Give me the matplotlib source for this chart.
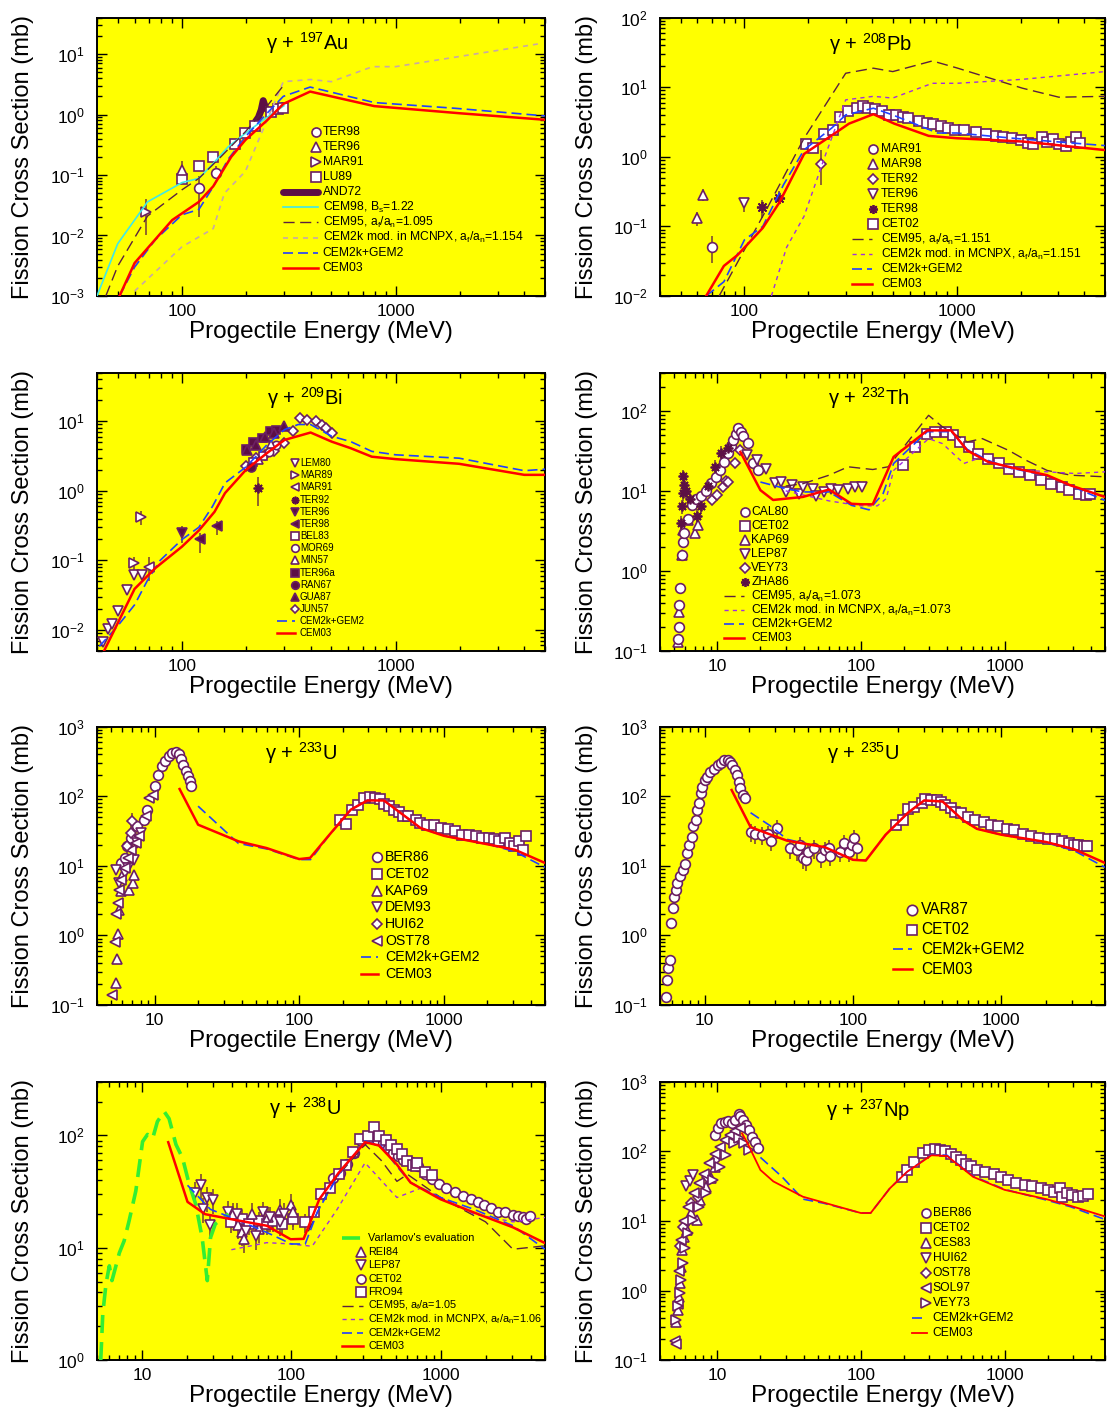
import numpy as np
import matplotlib
matplotlib.use("Agg")
import matplotlib.pyplot as plt
from matplotlib.ticker import LogLocator, NullFormatter, FixedLocator, FixedFormatter

plt.rcParams['font.family'] = ['Liberation Sans', 'DejaVu Sans']
plt.rcParams['mathtext.fontset'] = 'custom'
plt.rcParams['mathtext.rm'] = 'Liberation Sans'
plt.rcParams['mathtext.it'] = 'Liberation Sans:italic'
plt.rcParams['mathtext.bf'] = 'Liberation Sans:bold'
plt.rcParams['mathtext.default'] = 'regular'

YELLOW = '#ffff00'
MEDGE = '#6b1f62'
MFILL = '#5c0f45'
ECOL = '#7d4b32'
RED = '#ff0000'
BLUE = '#2040ff'
BROWN = '#5a2040'
PURPLE = '#a030e0'
PINKGRAY = '#c8a8a8'
CYAN = '#40e8e8'
GREEN = '#33ee33'

# ── gamma + 197Au ─────────────────────────────────────────────────────────────
AU_TER98 = np.array([[120, 0.06], [145, 0.11]])
AU_TER98_ERR = np.array([[0.04, 0.035], [0.025, 0.03]])
AU_TER96 = np.array([[100, 0.12]])
AU_TER96_ERR = np.array([[0.03, 0.05]])
AU_MAR91 = np.array([[68, 0.024]])
AU_MAR91_ERR = np.array([[0.014, 0.016]])
AU_LU89 = np.array([[100, 0.085], [120, 0.14], [140, 0.2], [178, 0.32], [198, 0.49],
                    [220, 0.65], [260, 1.1], [280, 1.22], [298, 1.3]])
AU_AND72 = np.array([[220, 0.75], [228, 0.9], [235, 1.2], [240, 1.7], [246, 1.3],
                     [255, 1.15], [265, 1.2], [280, 1.3], [295, 1.4]])
AU_CEM98 = np.array([[40, 0.001], [50, 0.0073], [69, 0.036], [100, 0.075], [120, 0.088],
                     [140, 0.155], [164, 0.29], [198, 0.49], [250, 0.9], [300, 1.4]])
AU_CEM95 = np.array([[44, 0.001], [50, 0.0031], [69, 0.021], [100, 0.057], [120, 0.088],
                     [152, 0.2], [198, 0.52], [235, 1.05], [298, 3.0]])
AU_MCNPX = np.array([[60, 0.0012], [100, 0.0065], [140, 0.013], [158, 0.05], [198, 0.115],
                     [298, 3.5], [400, 3.8], [500, 3.5], [780, 6.2], [1000, 6.2], [4800, 15]])
AU_GEM2 = np.array([[51, 0.001], [60, 0.003], [75, 0.0085], [100, 0.022], [120, 0.027],
                    [140, 0.064], [164, 0.18], [198, 0.43], [250, 1.05], [298, 2.0],
                    [398, 2.85], [794, 1.58], [1900, 1.27], [5000, 0.95]])
AU_CEM03 = np.array([[51, 0.001], [60, 0.0035], [90, 0.018], [120, 0.036], [140, 0.065],
                     [170, 0.2], [198, 0.38], [250, 0.8], [298, 1.5], [398, 2.4],
                     [794, 1.38], [2000, 1.05], [5000, 0.82]])

# ── gamma + 208Pb ─────────────────────────────────────────────────────────────
PB_MAR91 = np.array([[70, 0.05]])
PB_MAR91_ERR = np.array([[0.02, 0.022]])
PB_MAR98 = np.array([[60, 0.13], [64, 0.28]])
PB_MAR98_ERR = np.array([[0.03, 0.03], [0.05, 0.06]])
PB_TER92 = np.array([[229, 0.8]])
PB_TER92_ERR = np.array([[0.4, 0.45]])
PB_TER96 = np.array([[100, 0.22]])
PB_TER96_ERR = np.array([[0.06, 0.04]])
PB_TER98 = np.array([[121, 0.19], [146, 0.26]])
PB_TER98_ERR = np.array([[0.06, 0.05], [0.05, 0.06]])
PB_CET02 = np.array([[195, 1.53], [210, 1.35], [237, 2.1], [260, 2.4], [283, 3.7], [309, 4.6],
                     [338, 5.0], [362, 5.3], [383, 5.1], [413, 4.9], [445, 4.6], [479, 4.0],
                     [518, 4.0], [558, 3.7], [590, 3.6], [661, 3.3], [727, 3.1], [773, 3.0],
                     [846, 2.8], [910, 2.6], [981, 2.4], [1077, 2.45], [1228, 2.3], [1372, 2.1],
                     [1539, 2.0], [1660, 1.95], [1823, 1.85], [2000, 1.75], [2163, 1.6],
                     [2289, 1.55], [2516, 1.9], [2662, 1.66], [2857, 1.8], [3030, 1.55],
                     [3262, 1.45], [3450, 1.66], [3650, 1.9], [3800, 1.6]])
PB_CEM95 = np.array([[76, 0.01], [130, 0.2], [191, 1.85], [300, 15.9], [405, 18.8], [500, 16.8],
                     [768, 23.9], [1000, 19], [1630, 12], [2040, 9.7], [3030, 7.2], [5000, 7.4]])
PB_MCNPX = np.array([[134, 0.01], [158, 0.05], [191, 0.14], [239, 1.0], [300, 6.6], [405, 7.4],
                     [500, 7.0], [768, 11.4], [1000, 11.4], [2040, 13], [5000, 16.8]])
PB_GEM2 = np.array([[66, 0.01], [80, 0.016], [100, 0.064], [122, 0.1], [153, 0.4], [191, 1.26],
                    [258, 2.6], [300, 4.0], [405, 5.0], [500, 4.0], [812, 2.2], [1000, 2.2],
                    [2040, 1.8], [5000, 1.45]])
PB_CEM03 = np.array([[66, 0.01], [80, 0.027], [93, 0.039], [122, 0.095], [146, 0.22],
                     [191, 1.1], [268, 2.2], [311, 3.0], [405, 4.1], [508, 3.0], [738, 2.0],
                     [1000, 1.85], [2040, 1.66], [5000, 1.25]])

# ── gamma + 209Bi ─────────────────────────────────────────────────────────────
BI_LEM80 = np.array([[42.5, 0.0067], [45, 0.0104], [47.2, 0.0123], [50.4, 0.019], [55, 0.0377],
                     [59.7, 0.061], [65, 0.062]])
BI_MAR89 = np.array([[59.7, 0.092], [64.3, 0.42]])
BI_MAR89_ERR = np.array([[0.02, 0.02], [0.1, 0.1]])
BI_MAR91 = np.array([[70.2, 0.081]])
BI_MAR91_ERR = np.array([[0.03, 0.03]])
BI_TER92 = np.array([[227, 1.1]])
BI_TER92_ERR = np.array([[0.5, 0.5]])
BI_TER96 = np.array([[100, 0.25]])
BI_TER96_ERR = np.array([[0.07, 0.06]])
BI_TER98 = np.array([[121, 0.2], [146, 0.31]])
BI_TER98_ERR = np.array([[0.07, 0.05], [0.08, 0.06]])
BI_BEL83 = np.array([[215, 2.6], [240, 3.2]])
BI_MOR69 = np.array([[255, 3.6], [275, 4.6]])
BI_MIN57 = np.array([[230, 2.8], [260, 4.7]])
BI_TER96A = np.array([[199, 4.0], [215, 5.1], [236, 5.7], [259, 7.2], [275, 7.6]])
BI_RAN67 = np.array([[210, 2.2]])
BI_GUA87 = np.array([[202, 3.9], [223, 4.6], [245, 5.9], [269, 6.8], [299, 8.5]])
BI_JUN57 = np.array([[199, 2.3], [223, 3.0], [245, 3.3], [269, 3.8], [299, 4.9], [332, 7.2],
                     [357, 11.2], [385, 10.6], [424, 10], [453, 8.9], [473, 8], [502, 6.8]])
BI_GEM2 = np.array([[41, 0.0058], [49.5, 0.011], [60, 0.023], [69, 0.052], [79, 0.1], [100, 0.2],
                    [120, 0.3], [139, 0.6], [159, 1.3], [199, 2.2], [250, 4.6], [302, 7.6],
                    [350, 9.0], [400, 9.0], [502, 6.1], [617, 5.1], [773, 3.7], [1000, 3.3],
                    [1982, 2.95], [4000, 1.95], [5000, 2.05]])
BI_CEM03 = np.array([[43.3, 0.0051], [60, 0.039], [74.8, 0.077], [100, 0.158], [120, 0.27],
                     [142, 0.5], [159, 0.93], [199, 2.0], [250, 3.5], [302, 5.4], [400, 6.9],
                     [502, 5.1], [617, 4.1], [773, 3.1], [1000, 2.86], [1982, 2.45],
                     [4000, 1.7], [5000, 1.7]])

# ── gamma + 232Th ─────────────────────────────────────────────────────────────
TH_CAL80 = np.array([[5.35, 0.14], [5.4, 0.2], [5.45, 0.38], [5.5, 0.61], [5.66, 1.6],
                     [5.75, 2.3], [5.9, 3.0], [6.3, 4.5], [6.63, 6.7], [7.1, 8.0], [7.74, 8.7],
                     [8.4, 10], [9.1, 12.6], [9.8, 15], [10.5, 18], [11.2, 23], [11.9, 29.8],
                     [12.4, 36], [12.9, 43], [13.5, 52], [14, 61], [14.6, 55], [15.2, 48],
                     [16.4, 40], [17.8, 22], [19.3, 18]])
TH_CET02 = np.array([[195, 21], [237, 35], [288, 51], [330, 55], [390, 55], [440, 50], [490, 41],
                     [565, 35], [650, 29], [770, 25], [910, 22], [1070, 19], [1260, 17.3],
                     [1500, 15.7], [1780, 13.6], [2100, 12.3], [2500, 11.2], [2800, 10.2],
                     [3300, 9.2], [3700, 8.8], [3900, 9.2]])
TH_KAP69 = np.array([[5.35, 0.13], [5.45, 0.31], [5.66, 1.6], [5.8, 3.2], [6.3, 4.3], [7.0, 3.0],
                     [7.4, 3.7]])
TH_LEP87 = np.array([[16, 28], [19, 24], [22, 19], [25.3, 12.4], [28, 13], [30, 9.7], [33.4, 11.8],
                     [37.3, 9.2], [39.5, 11.2], [46.7, 10.7], [49, 8.6], [55, 9.7], [61.6, 10.7],
                     [69, 10.2], [81.6, 10.7], [91, 11.2], [102, 11.2]])
TH_VEY73 = np.array([[9.2, 7.6], [10, 8.9], [10.9, 11.2], [11.5, 13.3], [11.8, 13], [13.2, 22],
                     [14.4, 32]])
TH_ZHA86 = np.array([[5.6, 4.0], [5.7, 6.5], [5.75, 9.4], [5.8, 15.4], [5.9, 12], [6.1, 10],
                     [6.5, 8], [7.2, 4.9], [7.7, 6.5], [8.7, 11.5], [9.7, 20], [10.6, 30],
                     [11.9, 34]])
TH_CEM95 = np.array([[30, 11.5], [39.5, 12.3], [60, 15.7], [81.6, 20], [121, 18.5], [155, 20],
                     [296, 88], [370, 63], [550, 41], [700, 45], [1070, 32], [1420, 24],
                     [1980, 18], [2900, 15.7], [5000, 15]])
TH_MCNPX = np.array([[30, 10], [60, 7.5], [100, 6.5], [130, 6.5], [150, 8], [169, 18], [296, 45],
                     [370, 39], [520, 22], [680, 26], [1070, 19], [1980, 17.3], [3100, 16.5],
                     [5000, 17.3]])
TH_GEM2 = np.array([[20, 12.9], [29.8, 10.7], [39.5, 9.7], [60, 9.7], [86, 6.6], [114, 5.8],
                    [143, 9.3], [169, 22], [290, 55], [425, 55], [550, 33], [770, 24],
                    [1070, 19.5], [1980, 15.4], [5000, 7.6]])
TH_CEM03 = np.array([[14.5, 30.7], [20, 10.2], [24.5, 7.7], [39.5, 8.4], [60, 10.4], [86, 6.9],
                     [102, 6.8], [121, 6.8], [169, 26.6], [290, 57], [425, 57], [550, 32],
                     [770, 23], [1070, 20], [1980, 15.7], [2850, 11.8], [5000, 8.4]])

# ── gamma + 233U ──────────────────────────────────────────────────────────────
U233_BER86 = np.array([[5.9, 10.8], [6.2, 13], [6.4, 19], [6.9, 25], [7.6, 37], [8.4, 46],
                       [8.9, 64], [10, 140], [10.6, 205], [11.2, 270], [11.8, 320], [12.5, 380],
                       [13.2, 420], [14, 430], [14.8, 400], [15.2, 340], [15.8, 285],
                       [16.5, 230], [17, 195], [17.5, 165], [18, 140]])
U233_CET02 = np.array([[192, 46], [209, 40], [233, 64], [254, 76], [282, 95], [307, 98], [333, 95],
                       [363, 91], [385, 78], [418, 72], [455, 64], [493, 59], [523, 52], [568, 52],
                       [638, 46], [689, 41], [770, 39], [860, 38], [960, 35], [1070, 34],
                       [1200, 32], [1340, 28], [1500, 28], [1680, 26.4], [1830, 25], [2040, 25],
                       [2220, 24], [2420, 22.5], [2630, 25], [2880, 21], [3040, 19], [3320, 22.5],
                       [3500, 17], [3700, 27]])
U233_KAP69 = np.array([[5.4, 0.21], [5.5, 0.46], [5.6, 1.05], [5.7, 2.3], [5.9, 4.3], [6.0, 7.1],
                       [6.7, 4.5], [7.1, 5.6], [7.2, 7.4]])
U233_DEM93 = np.array([[5.4, 8.8], [5.7, 5.6], [6.2, 7.8], [6.6, 9.2], [7.2, 12], [7.6, 21],
                       [8.0, 30]])
U233_HUI62 = np.array([[6.4, 19], [6.9, 30], [7.0, 44]])
U233_HUI62_ERR = np.array([[4, 4], [6, 8], [10, 14]])
U233_OST78 = np.array([[5.1, 0.14], [5.3, 0.8], [5.4, 2.0], [5.6, 2.9], [5.7, 4.5], [5.9, 6.3],
                       [6.2, 9.3], [6.6, 13], [6.9, 17], [7.4, 21], [7.8, 27], [8.7, 52],
                       [9.2, 95], [9.7, 105]])
U233_GEM2 = np.array([[20, 72], [38, 21], [59.5, 17.5], [100, 12.3], [120, 12.3], [158, 26],
                      [227, 64], [296, 88], [385, 88], [523, 54], [689, 35], [1000, 27],
                      [2100, 20], [3100, 16], [5000, 9.5]])
U233_CEM03 = np.array([[14.9, 127], [20, 39], [38, 22.5], [59.5, 18], [100, 12.5], [119, 13],
                       [158, 26.4], [227, 64], [296, 87], [385, 87], [523, 54], [689, 35],
                       [1000, 27], [2100, 20], [3100, 17], [5000, 11]])

# ── gamma + 235U ──────────────────────────────────────────────────────────────
U235_VAR87_GDR = np.array([[5.5, 0.13], [5.6, 0.23], [5.7, 0.34], [5.8, 0.44], [5.9, 1.5],
                           [6.1, 2.5], [6.2, 3.6], [6.4, 4.5], [6.5, 5.6], [6.8, 7.1], [7.1, 8.7],
                           [7.4, 10.5], [7.6, 15.3], [7.8, 20], [8.2, 26], [8.4, 37], [8.7, 46],
                           [8.9, 64], [9.1, 79], [9.4, 110], [9.6, 138], [10, 172], [10.4, 190],
                           [10.9, 225], [11.6, 250], [12.3, 280], [12.9, 300], [13.6, 330],
                           [14.4, 330], [14.9, 310], [15.4, 280], [16.0, 240], [16.5, 200],
                           [17, 160], [17.4, 130], [18, 105], [18.6, 93]])
U235_VAR87_HI = np.array([[20.4, 31], [22, 29], [24.3, 28], [26.7, 29], [28, 23], [30.6, 35],
                          [37.8, 18], [42, 17], [44, 20], [45.7, 13], [48, 12], [49.5, 16],
                          [55, 18], [61, 13.5], [65, 17], [68.5, 18], [70, 14], [82, 16],
                          [87, 21], [94.5, 16], [99, 19.7], [102, 25], [106, 18]])
U235_CET02 = np.array([[195, 39], [217, 45], [235, 65], [258, 70], [290, 79], [307, 91], [338, 87],
                       [370, 88], [390, 82], [420, 75], [455, 67], [491, 60], [535, 57], [597, 50],
                       [665, 45], [760, 42], [850, 39], [950, 37], [1090, 34], [1210, 32.5],
                       [1390, 29], [1580, 27], [1800, 25], [2050, 24], [2300, 24], [2550, 22.6],
                       [2850, 21.5], [3100, 20], [3300, 20], [3600, 19], [3800, 19]])
U235_GEM2 = np.array([[20.4, 58], [27.5, 38], [36, 24], [65, 18], [100, 12.2], [122, 12],
                      [166, 28], [235, 58], [302, 87], [402, 84], [553, 45], [685, 34],
                      [1000, 28], [2000, 21.5], [3100, 16.5], [5000, 9.5]])
U235_CEM03 = np.array([[15.2, 123], [20.4, 36], [24.6, 31], [35.9, 23], [64.7, 18.5], [100, 12.2],
                       [122, 11.9], [166, 28], [235, 58], [302, 87], [402, 84], [553, 45],
                       [685, 34], [1000, 28], [2000, 22], [3100, 17.3], [5000, 11]])

# ── gamma + 238U ──────────────────────────────────────────────────────────────
U238_VARLAMOV = np.array([[5.3, 1.0], [5.47, 2.6], [5.75, 4.8], [6.05, 6.9], [6.3, 5.1],
                          [6.64, 6.6], [7.06, 9.0], [7.6, 11.5], [8.2, 17.3], [9.1, 32],
                          [10.1, 88], [10.9, 102], [11.8, 94], [12.7, 133], [14.1, 163],
                          [15.2, 141], [16.9, 83], [18.7, 63], [20.7, 37], [22.9, 24.5],
                          [25.3, 12.3], [27.4, 5.1], [28.8, 12.3], [31, 16.3], [38, 20]])
U238_REI84 = np.array([[40.9, 20], [44.3, 15.9], [46.7, 13.7], [48, 11.9], [55, 20], [61.2, 14.6],
                       [70, 18.6], [84, 21.7], [100, 23.9], [102, 20.6]])
U238_LEP87 = np.array([[22.5, 31], [25, 36], [25.8, 22.3], [27.2, 28], [28.7, 15.9], [29.8, 26.7],
                       [37.7, 20.8], [43, 20], [49.4, 14.2], [58, 12.8], [64.6, 20.6], [72, 18.6],
                       [84, 16.8], [90, 20]])
U238_CET02 = np.array([[191, 42], [213, 46.6], [237, 56], [263, 70], [294, 89], [318, 95],
                       [347, 95], [376, 91], [410, 85], [443, 78], [481, 70], [520, 65], [564, 61],
                       [630, 58], [701, 53], [785, 45], [870, 41], [970, 37], [1080, 34],
                       [1240, 31.4], [1420, 29], [1590, 27], [1770, 25.3], [1960, 24],
                       [2180, 22.8], [2430, 21], [2700, 20.6], [3050, 19.5], [3310, 19.2],
                       [3560, 18.6], [3740, 18], [3990, 19.2]])
U238_FRO94_LOW = np.array([[39.7, 16.8], [46.8, 18], [52, 16.2], [61, 17.3], [68.5, 16.2],
                           [76, 17.3], [87, 16.2], [103, 18], [124, 16.8]])
U238_FRO94 = np.array([[142, 21], [158, 30], [181, 34], [208, 45], [231, 55], [258, 71], [287, 92],
                       [328, 98], [357, 118], [386, 98], [430, 91], [467, 83], [510, 75], [550, 68],
                       [600, 59], [650, 54], [680, 53], [700, 57], [785, 47], [870, 44]])
U238_CEM95 = np.array([[130, 14], [160, 25], [203, 43], [312, 83], [400, 60], [510, 39],
                       [600, 45], [1000, 28], [2000, 17], [3050, 9.7], [5000, 10.4]])
U238_MCNPX = np.array([[39.7, 9.6], [68.5, 11.1], [100, 10.8], [138, 10.3], [203, 22], [312, 57],
                       [510, 28], [740, 34], [1000, 28], [1670, 20], [3050, 17], [5000, 18.6]])
U238_GEM2 = np.array([[20.2, 36], [28.7, 22], [42, 18], [68.5, 13.7], [100, 10.8], [124, 10.8],
                      [150, 21], [208, 45], [312, 89], [398, 81], [510, 53], [630, 38],
                      [1000, 28], [1670, 22], [3050, 15.7], [5000, 9.7]])
U238_CEM03 = np.array([[15, 87], [20.2, 25.6], [26.5, 19.9], [42, 17.7], [68.5, 15.7], [99, 11.9],
                       [121, 12], [154, 27], [208, 46.6], [312, 87], [386, 81.5], [510, 55],
                       [630, 38], [1000, 27], [1670, 20.6], [3050, 15.2], [5000, 11]])

# ── gamma + 237Np ─────────────────────────────────────────────────────────────
NP_BER86 = np.array([[9.6, 171], [10.1, 214], [10.7, 252], [11.3, 266], [11.9, 272], [12.6, 258],
                     [13.4, 281], [14.1, 344], [14.5, 322], [15.2, 281], [15.8, 240], [16.7, 203],
                     [17.4, 162], [18.2, 138], [19.2, 111]])
NP_CET02 = np.array([[193, 43.3], [210, 54], [235, 71], [270, 94], [300, 105], [327, 107],
                     [356, 105], [388, 100], [421, 92], [457, 82], [494, 74], [540, 66], [585, 61],
                     [640, 54], [730, 50], [840, 47.5], [940, 43.3], [1050, 39], [1200, 35],
                     [1390, 33], [1550, 31.4], [1780, 29.6], [1990, 28], [2220, 26.4],
                     [2420, 29.6], [2490, 22.3], [2730, 25.5], [2960, 23.4], [3240, 22.3],
                     [3510, 22.7], [3800, 24]])
NP_CES83 = np.array([[5.18, 0.35], [5.33, 0.53], [5.4, 0.82], [5.5, 1.27], [5.6, 2.2], [5.7, 3.8],
                     [5.86, 5.9], [6.13, 7.5], [6.6, 13], [7.2, 10.4], [7.6, 20], [8.3, 31],
                     [9.0, 41], [9.6, 60]])
NP_HUI62 = np.array([[6.1, 32], [6.5, 37], [6.8, 46]])
NP_OST78 = np.array([[5.5, 4.3], [5.8, 8.3], [6.6, 18], [7.4, 22], [8.55, 43], [9.6, 75]])
NP_SOL97 = np.array([[5.05, 0.19], [5.2, 0.17], [5.33, 0.64], [5.45, 1.9], [5.6, 5.3], [5.9, 10],
                     [6.3, 16], [6.85, 25], [7.45, 35], [8.1, 48], [8.8, 67], [9.6, 91],
                     [10.4, 117], [11.3, 146], [12.3, 172], [13.4, 198], [14.5, 214]])
NP_VEY73 = np.array([[5.2, 0.38], [5.3, 0.6], [5.5, 0.92], [5.6, 1.4], [5.8, 2.5], [6.0, 4.1],
                     [6.3, 6.7], [6.8, 10.4], [7.45, 16], [8.3, 25], [9.3, 39], [10.4, 60],
                     [11.6, 89], [13, 130], [14.1, 154], [15.4, 130], [16.7, 104]])
NP_GEM2 = np.array([[20, 82], [28.3, 43], [39.5, 20.6], [55, 18], [100, 13], [117, 13],
                    [159, 29.4], [210, 51], [310, 90], [398, 88], [605, 44], [1000, 28.5],
                    [1950, 20], [2880, 16], [5000, 10.5]])
NP_CEM03 = np.array([[14.9, 181], [16.2, 133], [20, 54], [24.6, 37], [39.5, 22.3], [55, 18.4],
                     [100, 13], [117, 13], [159, 29.4], [210, 51], [310, 88], [398, 86],
                     [605, 43], [1000, 28], [1950, 20.6], [2880, 16.5], [5000, 11.6]])


# ── styles ────────────────────────────────────────────────────────────────────
def mk(m, ms=7, filled=False):
    if isinstance(m, tuple):
        return dict(marker=m, ms=ms, mec=MFILL, mew=1.3)
    if m == 'D':
        ms = ms * 0.75
    return dict(marker=m, ms=ms, mfc=MFILL if filled else 'white', mec=MEDGE, mew=1.2)


STAR = (8, 2, 0)
S_CEM03 = dict(color=RED, lw=1.8)
S_CEM03_NP = dict(color=RED, lw=1.3)
S_GEM2 = dict(color=BLUE, lw=1.2, dashes=(6, 3))
S_CEM95 = dict(color=BROWN, lw=1.0, dashes=(8, 4))
S_MCNPX = dict(color=PURPLE, lw=1.0, dashes=(3, 3))
S_MCNPX_AU = dict(color=PINKGRAY, lw=1.2, dashes=(3, 3))
S_CEM98 = dict(color=CYAN, lw=1.2)
S_VARL = dict(color=GREEN, lw=2.6, dashes=(5, 2.5))
S_AND72 = dict(color=MFILL, lw=5, solid_capstyle='round')


def setup(ax, xlim, ylim, xticks):
    ax.set_facecolor(YELLOW)
    ax.set_xscale('log')
    ax.set_yscale('log')
    ax.set_xlim(*xlim)
    ax.set_ylim(*ylim)
    ax.xaxis.set_major_locator(FixedLocator(xticks))
    ax.xaxis.set_major_formatter(FixedFormatter([str(t) for t in xticks]))
    ax.xaxis.set_minor_locator(LogLocator(base=10, subs=np.arange(2, 10), numticks=20))
    ax.xaxis.set_minor_formatter(NullFormatter())
    ax.yaxis.set_major_locator(LogLocator(base=10, numticks=10))
    ax.yaxis.set_minor_locator(LogLocator(base=10, subs=np.arange(2, 10), numticks=20))
    ax.yaxis.set_minor_formatter(NullFormatter())
    ax.tick_params(which='both', direction='in', top=True, right=True, width=1)
    ax.tick_params(which='major', length=7, labelsize=12.5)
    ax.tick_params(which='minor', length=3.5)
    ax.tick_params(axis='y', which='major', pad=9)
    ax.tick_params(axis='x', which='major', pad=6)
    for s in ax.spines.values():
        s.set_linewidth(1.4)
    ax.set_xlabel('Progectile Energy (MeV)', fontsize=17.5)
    ax.set_ylabel('Fission Cross Section (mb)', fontsize=17)
    ax.xaxis.set_label_coords(0.5, -0.09)
    ax.yaxis.set_label_coords(-0.14, 0.5)


def curve(ax, arr, style):
    ax.plot(arr[:, 0], arr[:, 1], zorder=5, **style)


def pts(ax, arr, m, ms=7, filled=False, err=None):
    if err is not None:
        ax.errorbar(arr[:, 0], arr[:, 1], yerr=err.T, fmt='none', ecolor=ECOL,
                    elinewidth=1.2, capsize=0, zorder=3)
    ax.plot(arr[:, 0], arr[:, 1], ls='none', zorder=4, **mk(m, ms, filled))


def rel_err(arr, frac):
    return np.column_stack([arr[:, 1] * frac, arr[:, 1] * frac])


def title(ax, a, sym, x, y):
    ax.text(x, y, 'γ + $^{%s}$%s' % (a, sym), transform=ax.transAxes,
            ha='center', va='baseline', fontsize=14.5)


def legend(ax, entries, xm, xl0, xl1, xt, ytop, dy, fs, ms=6.5):
    for i, (label, kind, st) in enumerate(entries):
        y = ytop - i * dy
        if kind == 'm':
            m, filled = st
            ax.plot([xm], [y], transform=ax.transAxes, clip_on=False, ls='none',
                    zorder=6, **mk(m, ms, filled))
        else:
            ax.plot([xl0, xl1], [y, y], transform=ax.transAxes, clip_on=False, zorder=6, **st)
        ax.text(xt, y, label, transform=ax.transAxes, fontsize=fs, va='center', ha='left')


fig = plt.figure(figsize=(11.07, 14.16), dpi=100)
H = 0.1965
LX, LW = 0.0876, 0.4047
RX, RW = 0.5962, 0.4020
ROWS = [0.7910, 0.5403, 0.2903, 0.0395]

FF = r'a$_f$/a$_n$'

# ── panel: Au ────────────────────────────────────────────────────────────────
ax = fig.add_axes([LX, ROWS[0], LW, H])
setup(ax, (40, 5000), (1e-3, 40), [100, 1000])
curve(ax, AU_MCNPX, S_MCNPX_AU)
curve(ax, AU_CEM98, S_CEM98)
curve(ax, AU_CEM95, S_CEM95)
curve(ax, AU_GEM2, S_GEM2)
curve(ax, AU_CEM03, S_CEM03)
ax.plot(AU_AND72[:, 0], AU_AND72[:, 1], zorder=4, **S_AND72)
pts(ax, AU_LU89, 's', 6.5)
pts(ax, AU_TER98, 'o', 7, err=AU_TER98_ERR)
pts(ax, AU_TER96, '^', 7, err=AU_TER96_ERR)
pts(ax, AU_MAR91, '>', 7, err=AU_MAR91_ERR)
title(ax, '197', 'Au', 0.47, 0.885)
legend(ax, [('TER98', 'm', ('o', False)), ('TER96', 'm', ('^', False)),
            ('MAR91', 'm', ('>', False)), ('LU89', 'm', ('s', False)),
            ('AND72', 'l', S_AND72),
            (r'CEM98, B$_s$=1.22', 'l', S_CEM98),
            ('CEM95, ' + FF + '=1.095', 'l', S_CEM95),
            ('CEM2k mod. in MCNPX, ' + FF + '=1.154', 'l', S_MCNPX_AU),
            ('CEM2k+GEM2', 'l', S_GEM2), ('CEM03', 'l', S_CEM03)],
       0.489, 0.415, 0.493, 0.504, 0.588, 0.054, 8.7)

# ── panel: Pb ────────────────────────────────────────────────────────────────
ax = fig.add_axes([RX, ROWS[0], RW, H])
setup(ax, (40, 5000), (1e-2, 100), [100, 1000])
curve(ax, PB_CEM95, S_CEM95)
curve(ax, PB_MCNPX, S_MCNPX)
curve(ax, PB_GEM2, S_GEM2)
curve(ax, PB_CEM03, S_CEM03)
pts(ax, PB_CET02, 's', 7)
pts(ax, PB_MAR91, 'o', 7, err=PB_MAR91_ERR)
pts(ax, PB_MAR98, '^', 7, err=PB_MAR98_ERR)
pts(ax, PB_TER92, 'D', 7, err=PB_TER92_ERR)
pts(ax, PB_TER96, 'v', 7, err=PB_TER96_ERR)
pts(ax, PB_TER98, STAR, 8, err=PB_TER98_ERR)
title(ax, '208', 'Pb', 0.472, 0.88)
legend(ax, [('MAR91', 'm', ('o', False)), ('MAR98', 'm', ('^', False)),
            ('TER92', 'm', ('D', False)), ('TER96', 'm', ('v', False)),
            ('TER98', 'm', (STAR, False)), ('CET02', 'm', ('s', False)),
            ('CEM95, ' + FF + '=1.151', 'l', S_CEM95),
            ('CEM2k mod. in MCNPX, ' + FF + '=1.151', 'l', S_MCNPX),
            ('CEM2k+GEM2', 'l', S_GEM2), ('CEM03', 'l', S_CEM03)],
       0.479, 0.431, 0.476, 0.497, 0.527, 0.0538, 8.7)

# ── panel: Bi ────────────────────────────────────────────────────────────────
ax = fig.add_axes([LX, ROWS[1], LW, H])
setup(ax, (40, 5000), (5e-3, 50), [100, 1000])
curve(ax, BI_GEM2, S_GEM2)
curve(ax, BI_CEM03, S_CEM03)
pts(ax, BI_JUN57, 'D', 6.5)
pts(ax, BI_BEL83, 's', 6)
pts(ax, BI_MOR69, 'o', 6)
pts(ax, BI_MIN57, '^', 6)
pts(ax, BI_TER96A, 's', 6, filled=True)
pts(ax, BI_GUA87, '^', 6.5, filled=True)
pts(ax, BI_RAN67, 'o', 6.5, filled=True)
pts(ax, BI_LEM80, 'v', 6.5)
pts(ax, BI_MAR89, '>', 6.5, err=BI_MAR89_ERR)
pts(ax, BI_MAR91, '<', 6.5, err=BI_MAR91_ERR)
pts(ax, BI_TER92, STAR, 7, err=BI_TER92_ERR)
pts(ax, BI_TER96, 'v', 6.5, filled=True, err=BI_TER96_ERR)
pts(ax, BI_TER98, '<', 6.5, filled=True, err=BI_TER98_ERR)
title(ax, '209', 'Bi', 0.464, 0.885)
legend(ax, [('LEM80', 'm', ('v', False)), ('MAR89', 'm', ('>', False)),
            ('MAR91', 'm', ('<', False)), ('TER92', 'm', (STAR, False)),
            ('TER96', 'm', ('v', True)), ('TER98', 'm', ('<', True)),
            ('BEL83', 'm', ('s', False)), ('MOR69', 'm', ('o', False)),
            ('MIN57', 'm', ('^', False)), ('TER96a', 'm', ('s', True)),
            ('RAN67', 'm', ('o', True)), ('GUA87', 'm', ('^', True)),
            ('JUN57', 'm', ('D', False)),
            ('CEM2k+GEM2', 'l', S_GEM2), ('CEM03', 'l', S_CEM03)],
       0.442, 0.402, 0.442, 0.453, 0.675, 0.0437, 7.0, ms=5.5)

# ── panel: Th ────────────────────────────────────────────────────────────────
ax = fig.add_axes([RX, ROWS[1], RW, H])
setup(ax, (4, 5000), (0.1, 300), [10, 100, 1000])
curve(ax, TH_CEM95, S_CEM95)
curve(ax, TH_MCNPX, S_MCNPX)
curve(ax, TH_GEM2, S_GEM2)
curve(ax, TH_CEM03, S_CEM03)
pts(ax, TH_CET02, 's', 7)
pts(ax, TH_KAP69, '^', 7)
pts(ax, TH_CAL80, 'o', 7)
pts(ax, TH_VEY73, 'D', 7)
pts(ax, TH_LEP87, 'v', 7)
pts(ax, TH_ZHA86, STAR, 7, err=rel_err(TH_ZHA86, 0.2))
title(ax, '232', 'Th', 0.468, 0.885)
legend(ax, [('CAL80', 'm', ('o', False)), ('CET02', 'm', ('s', False)),
            ('KAP69', 'm', ('^', False)), ('LEP87', 'm', ('v', False)),
            ('VEY73', 'm', ('D', False)), ('ZHA86', 'm', (STAR, False)),
            ('CEM95, ' + FF + '=1.073', 'l', S_CEM95),
            ('CEM2k mod. in MCNPX, ' + FF + '=1.073', 'l', S_MCNPX),
            ('CEM2k+GEM2', 'l', S_GEM2), ('CEM03', 'l', S_CEM03)],
       0.191, 0.144, 0.188, 0.205, 0.501, 0.0506, 8.7)

# ── panel: 233U ──────────────────────────────────────────────────────────────
ax = fig.add_axes([LX, ROWS[2], LW, H])
setup(ax, (4, 5000), (0.1, 1000), [10, 100, 1000])
curve(ax, U233_GEM2, S_GEM2)
curve(ax, U233_CEM03, S_CEM03)
pts(ax, U233_CET02, 's', 7)
pts(ax, U233_BER86, 'o', 7)
pts(ax, U233_KAP69, '^', 7)
pts(ax, U233_DEM93, 'v', 7)
pts(ax, U233_OST78, '<', 7)
pts(ax, U233_HUI62, 'D', 7, err=U233_HUI62_ERR)
title(ax, '233', 'U', 0.456, 0.88)
legend(ax, [('BER86', 'm', ('o', False)), ('CET02', 'm', ('s', False)),
            ('KAP69', 'm', ('^', False)), ('DEM93', 'm', ('v', False)),
            ('HUI62', 'm', ('D', False)), ('OST78', 'm', ('<', False)),
            ('CEM2k+GEM2', 'l', S_GEM2), ('CEM03', 'l', S_CEM03)],
       0.625, 0.589, 0.627, 0.643, 0.530, 0.0599, 10.2, ms=7)

# ── panel: 235U ──────────────────────────────────────────────────────────────
ax = fig.add_axes([RX, ROWS[2], RW, H])
setup(ax, (5, 5000), (0.1, 1000), [10, 100, 1000])
curve(ax, U235_GEM2, S_GEM2)
curve(ax, U235_CEM03, S_CEM03)
pts(ax, U235_CET02, 's', 7)
pts(ax, U235_VAR87_GDR, 'o', 7)
pts(ax, U235_VAR87_HI, 'o', 7, err=rel_err(U235_VAR87_HI, 0.3))
title(ax, '235', 'U', 0.456, 0.88)
legend(ax, [('VAR87', 'm', ('o', False)), ('CET02', 'm', ('s', False)),
            ('CEM2k+GEM2', 'l', S_GEM2), ('CEM03', 'l', S_CEM03)],
       0.566, 0.524, 0.566, 0.587, 0.342, 0.0712, 11.2, ms=7.5)

# ── panel: 238U ──────────────────────────────────────────────────────────────
ax = fig.add_axes([LX, ROWS[3], LW, H])
setup(ax, (5, 5000), (1, 300), [10, 100, 1000])
curve(ax, U238_VARLAMOV, S_VARL)
curve(ax, U238_CEM95, S_CEM95)
curve(ax, U238_MCNPX, S_MCNPX)
curve(ax, U238_GEM2, S_GEM2)
curve(ax, U238_CEM03, S_CEM03)
pts(ax, U238_CET02, 'o', 7)
pts(ax, U238_FRO94, 's', 7)
pts(ax, U238_FRO94_LOW, 's', 7, err=rel_err(U238_FRO94_LOW, 0.2))
pts(ax, U238_REI84, '^', 7, err=rel_err(U238_REI84, 0.25))
pts(ax, U238_LEP87, 'v', 7, err=rel_err(U238_LEP87, 0.25))
title(ax, '238', 'U', 0.465, 0.88)
legend(ax, [("Varlamov's evaluation", 'l', S_VARL),
            ('REI84', 'm', ('^', False)), ('LEP87', 'm', ('v', False)),
            ('CET02', 'm', ('o', False)), ('FRO94', 'm', ('s', False)),
            (r'CEM95, a$_f$/a=1.05', 'l', S_CEM95),
            ('CEM2k mod. in MCNPX, ' + FF + '=1.06', 'l', S_MCNPX),
            ('CEM2k+GEM2', 'l', S_GEM2), ('CEM03', 'l', S_CEM03)],
       0.589, 0.547, 0.594, 0.605, 0.438, 0.0485, 7.8, ms=6.5)

# ── panel: 237Np ─────────────────────────────────────────────────────────────
ax = fig.add_axes([RX, ROWS[3], RW, H])
setup(ax, (4, 5000), (0.1, 1000), [10, 100, 1000])
curve(ax, NP_GEM2, S_GEM2)
curve(ax, NP_CEM03, S_CEM03_NP)
pts(ax, NP_CET02, 's', 7)
pts(ax, NP_BER86, 'o', 7)
pts(ax, NP_CES83, '^', 7)
pts(ax, NP_HUI62, 'v', 7)
pts(ax, NP_OST78, 'D', 7)
pts(ax, NP_SOL97, '<', 7)
pts(ax, NP_VEY73, '>', 7)
title(ax, '237', 'Np', 0.468, 0.875)
legend(ax, [('BER86', 'm', ('o', False)), ('CET02', 'm', ('s', False)),
            ('CES83', 'm', ('^', False)), ('HUI62', 'm', ('v', False)),
            ('OST78', 'm', ('D', False)), ('SOL97', 'm', ('<', False)),
            ('VEY73', 'm', ('>', False)),
            ('CEM2k+GEM2', 'l', S_GEM2), ('CEM03', 'l', S_CEM03_NP)],
       0.598, 0.566, 0.600, 0.613, 0.528, 0.0538, 8.7)

fig.savefig('out.png', dpi=100)
